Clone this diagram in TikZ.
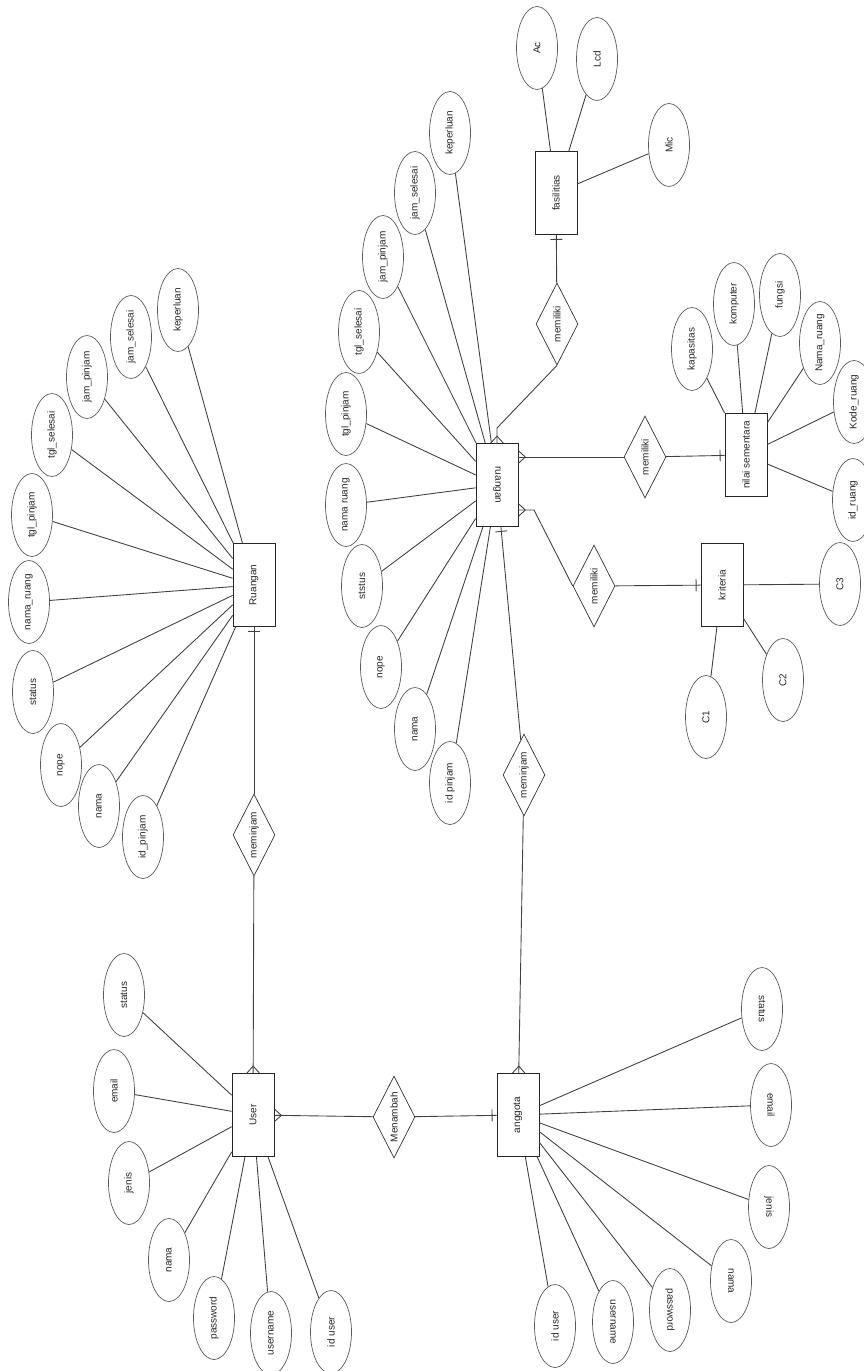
\documentclass[tikz,border=0pt]{standalone}
\usepackage{fontspec}
\setmainfont{Liberation Sans}
\usepackage{graphicx}
\usepackage{tikz}
\usetikzlibrary{shapes.geometric, decorations.markings, calc}

\tikzset{
  attrib/.style={ellipse,draw=black!65,minimum width=0.82cm,minimum height=1.66cm,
                 inner sep=0pt,font=\fontsize{5.7}{7}\selectfont,text=black!85},
  entity/.style={rectangle,draw=black!85,minimum width=0.84cm,minimum height=1.66cm,
                 inner sep=0pt,font=\fontsize{5.7}{7}\selectfont,text=black!85},
  relation/.style={diamond,draw=black!80,aspect=0.5,minimum width=0.84cm,
                   minimum height=1.64cm,inner sep=0pt,
                   font=\fontsize{5.7}{7}\selectfont,text=black!85},
  link/.style={draw=black!75,line width=0.5pt},
  onemark/.style={postaction={decorate,decoration={markings,
      mark=at position -2.6pt with {\draw[black!75] (0,-3.4pt)--(0,3.4pt);}}}},
  manymark/.style={postaction={decorate,decoration={markings,
      mark=at position -4pt with {\draw[black!75] (0,0)--(4pt,3.6pt) (0,0)--(4pt,-3.6pt);}}}}
}

\begin{document}
\begin{tikzpicture}[x=0.02cm,y=-0.02cm]
    \useasboundingbox (0,0) rectangle (864,1371);
    % Ruangan (left)
    \node[entity](Ruangan)at(254,585){\rotatebox{90}{Ruangan}};
    \node[attrib](rKeperluan)at(178,310){\rotatebox{90}{keperluan}};
    \node[attrib](rJamSelesai)at(131,337){\rotatebox{90}{jam\_selesai}};
    \node[attrib](rJamPinjam)at(87,377){\rotatebox{90}{jam\_pinjam}};
    \node[attrib](rTglSelesai)at(52,435){\rotatebox{90}{tgl\_selesai}};
    \node[attrib](rTglPinjam)at(32,515){\rotatebox{90}{tgl\_pinjam}};
    \node[attrib](rNamaRuang)at(29,602){\rotatebox{90}{nama\_ruang}};
    \node[attrib](rStatus)at(33,692){\rotatebox{90}{status}};
    \node[attrib](rNope)at(61,765){\rotatebox{90}{nope}};
    \node[attrib](rNama)at(99,806){\rotatebox{90}{nama}};
    \node[attrib](rIdPinjam)at(143,837){\rotatebox{90}{id\_pinjam}};
    \foreach \a in {rKeperluan,rJamSelesai,rJamPinjam,rTglSelesai,rTglPinjam,
                    rNamaRuang,rStatus,rNope,rNama,rIdPinjam}
      \draw[link](\a)--(Ruangan);
    \node[relation](lMeminjam)at(254,835){\rotatebox{90}{meminjam}};
    % User
    \node[entity](User)at(253,1115){\rotatebox{90}{User}};
    \node[attrib](uStatus)at(124,995){\rotatebox{90}{status}};
    \node[attrib](uEmail)at(114,1091){\rotatebox{90}{email}};
    \node[attrib](uJenis)at(129,1183){\rotatebox{90}{jenis}};
    \node[attrib](uNama)at(169,1260){\rotatebox{90}{nama}};
    \node[attrib](uPassword)at(214,1318){\rotatebox{90}{password}};
    \node[attrib](uUsername)at(271,1333){\rotatebox{90}{username}};
    \node[attrib](uIdUser)at(331,1332){\rotatebox{90}{id user}};
    \foreach \a in {uStatus,uEmail,uJenis,uNama,uPassword,uUsername,uIdUser}
      \draw[link](\a)--(User);
    \node[relation](Menambah)at(394,1117){\rotatebox{90}{Menambah}};
    % anggota
    \node[entity](anggota)at(518,1115){\rotatebox{90}{anggota}};
    \node[attrib](aIdUser)at(555,1326){\rotatebox{90}{id user}};
    \node[attrib](aUsername)at(613,1322){\rotatebox{-90}{username}};
    \node[attrib](aPassword)at(670,1310){\rotatebox{-90}{password}};
    \node[attrib](aNama)at(731,1281){\rotatebox{-90}{nama}};
    \node[attrib](aJenis)at(769,1207){\rotatebox{-90}{jenis}};
    \node[attrib](aEmail)at(771,1105){\rotatebox{-90}{email}};
    \node[attrib](aStatus)at(762,1009){\rotatebox{-90}{status}};
    \foreach \a in {aIdUser,aUsername,aPassword,aNama,aJenis,aEmail,aStatus}
      \draw[link](\a)--(anggota);
    \node[relation](rMeminjam)at(524,775){\rotatebox{90}{meminjam}};
    % ruangan (right)
    \node[entity](ruangan)at(497,485){\rotatebox{-90}{ruangan}};
    \node[attrib](gKeperluan)at(450,133){\rotatebox{90}{keperluan}};
    \node[attrib](gJamSelesai)at(415,193){\rotatebox{90}{jam\_selesai}};
    \node[attrib](gJamPinjam)at(383,257){\rotatebox{90}{jam\_pinjam}};
    \node[attrib](gTglSelesai)at(359,332){\rotatebox{90}{tgl\_selesai}};
    \node[attrib](gTglPinjam)at(346,414){\rotatebox{90}{tgl\_pinjam}};
    \node[attrib](gNamaRuang)at(346,505){\rotatebox{90}{nama ruang}};
    \node[attrib](gStstus)at(362,586){\rotatebox{90}{ststus}};
    \node[attrib](gNope)at(381,667){\rotatebox{90}{nope}};
    \node[attrib](gNama)at(415,729){\rotatebox{90}{nama}};
    \node[attrib](gIdPinjam)at(450,783){\rotatebox{90}{id pinjam}};
    \foreach \a in {gKeperluan,gJamSelesai,gJamPinjam,gTglSelesai,gTglPinjam,
                    gNamaRuang,gStstus,gNope,gNama,gIdPinjam}
      \draw[link](\a)--(ruangan);
    % fasilitas
    \node[relation](fMemiliki)at(557,324){\rotatebox{90}{memiliki}};
    \node[entity](fasilitas)at(556,193){\rotatebox{90}{fasilitias}};
    \node[attrib](fAc)at(537,48){\rotatebox{90}{Ac}};
    \node[attrib](fLcd)at(597,59){\rotatebox{90}{Lcd}};
    \node[attrib](fMic)at(669,145){\rotatebox{90}{Mic}};
    \foreach \a in {fAc,fLcd,fMic}
      \draw[link](\a)--(fasilitas);
    % nilai sementara
    \node[relation](nMemiliki)at(645,457){\rotatebox{90}{memiliki}};
    \node[entity](nilai)at(746,455){\rotatebox{90}{nilai sementara}};
    \node[attrib](nKapasitas)at(692,349){\rotatebox{90}{kapasitas}};
    \node[attrib](nKomputer)at(734,304){\rotatebox{90}{komputer}};
    \node[attrib](nFungsi)at(780,295){\rotatebox{90}{fungsi}};
    \node[attrib](nNamaRuang)at(820,343){\rotatebox{90}{Nama\_ruang}};
    \node[attrib](nKodeRuang)at(854,402){\rotatebox{90}{Kode\_ruang}};
    \node[attrib](nIdRuang)at(853,500){\rotatebox{90}{id\_ruang}};
    \foreach \a in {nKapasitas,nKomputer,nFungsi,nNamaRuang,nKodeRuang,nIdRuang}
      \draw[link](\a)--(nilai);
    % kriteria
    \node[relation](kMemiliki)at(594,586){\rotatebox{90}{memiliki}};
    \node[entity](kriteria)at(722,585){\rotatebox{90}{kriteria}};
    \node[attrib](kC1)at(706,717){\rotatebox{90}{C1}};
    \node[attrib](kC2)at(783,680){\rotatebox{90}{C2}};
    \node[attrib](kC3)at(840,584){\rotatebox{90}{C3}};
    \foreach \a in {kC1,kC2,kC3}
      \draw[link](\a)--(kriteria);
    % relationships
    \coordinate(bendF)at(497,428);
    \coordinate(bendK)at(534,510);
    \draw[link,onemark](lMeminjam)--(Ruangan);
    \draw[link,manymark](lMeminjam)--(User);
    \draw[link,manymark](Menambah)--(User);
    \draw[link,onemark](Menambah)--(anggota);
    \draw[link,manymark](rMeminjam)--(anggota);
    \draw[link,onemark](rMeminjam)--(ruangan);
    \draw[link,manymark](nMemiliki.west)--(nMemiliki.west -| ruangan.east);
    \draw[link,onemark](nMemiliki)--(nilai);
    \draw[link,manymark](kMemiliki.west)--(bendK)--(bendK -| ruangan.east);
    \draw[link,onemark](kMemiliki)--(kriteria);
    \draw[link,manymark](fMemiliki.south)--(bendF)--(bendF |- ruangan.north);
    \draw[link,onemark](fMemiliki)--(fasilitas);
\end{tikzpicture}
\end{document}
